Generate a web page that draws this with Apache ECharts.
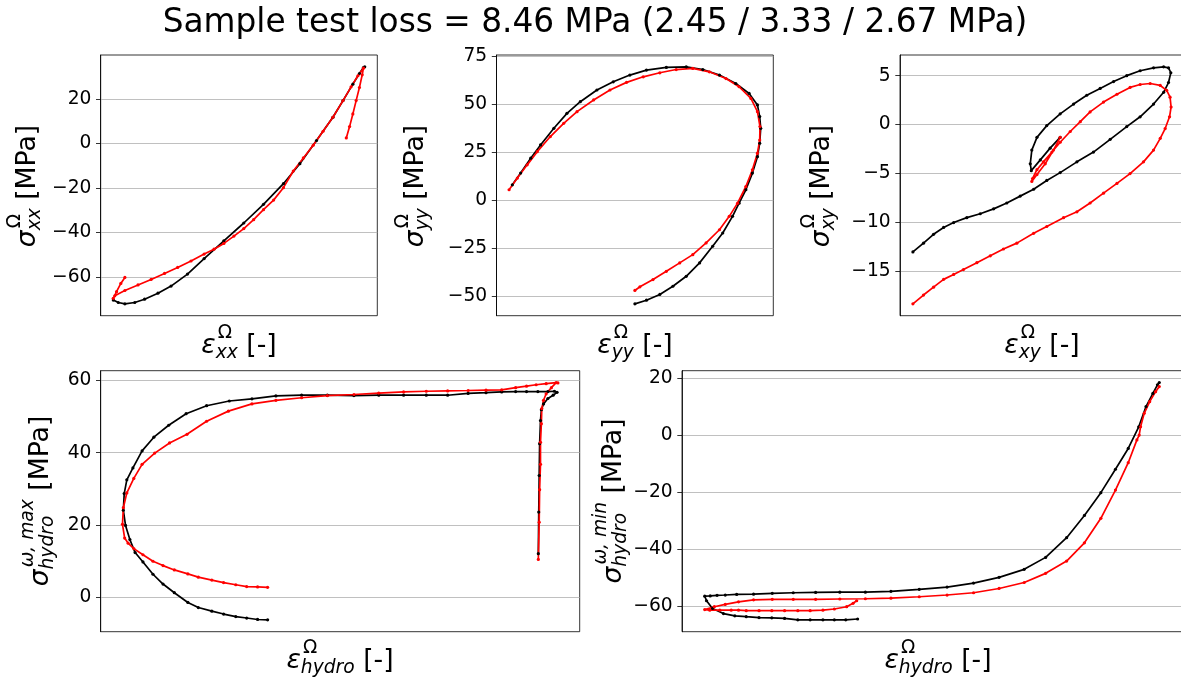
<!DOCTYPE html>
<html>
<head>
<meta charset="utf-8">
<script src="https://cdn.jsdelivr.net/npm/echarts@6/dist/echarts.min.js"></script>
<style>
html, body { margin: 0; padding: 0; background: #fff; }
#chart { width: 1181px; height: 677px; }
</style>
</head>
<body>
<div id="chart"></div>
<script>
// ---- Homogenised stress–strain paths (black = reference, red = prediction) ----
// Strains are normalised per component (0 = smallest, 1 = largest value on the path).

const xxStrainRef = [0.004,0.024,0.050,0.089,0.128,0.181,0.233,0.298,0.364,0.442,0.521,0.599,0.678,0.743,0.809,0.874,0.914,0.953,0.979,0.995,1.000];
const xxStressRef = [-70.5,-71.6,-72.2,-71.6,-70.1,-67.4,-64.2,-58.8,-51.8,-43.8,-35.8,-27.4,-18.1,-9.1,1.3,11.8,19.3,26.7,31.5,34.2,34.5];
const xxStrainPred = [0.927,0.940,0.953,0.966,0.979,0.990,0.995,0.973,0.946,0.914,0.874,0.835,0.796,0.757,0.717,0.678,0.639,0.599,0.560,0.521,0.482,0.442,0.403,0.364,0.312,0.259,0.207,0.154,0.102,0.050,0.010,0.004,0.017,0.034,0.050];
const xxStressPred = [2.5,7.6,13.3,19.3,25.2,30.9,33.9,30.5,25.5,19.3,11.8,5.5,-0.8,-6.5,-12.4,-19.9,-25.5,-29.8,-34.3,-38.3,-41.7,-45.0,-47.6,-49.8,-52.9,-55.8,-58.5,-61.2,-63.7,-66.2,-68.6,-69.7,-66.7,-63.0,-60.3];

const yyStrainRef = [0.013,0.046,0.086,0.125,0.178,0.230,0.283,0.349,0.414,0.480,0.546,0.625,0.704,0.770,0.836,0.901,0.954,0.987,0.996,1.000,0.996,0.987,0.967,0.941,0.914,0.888,0.849,0.809,0.757,0.704,0.651,0.599,0.546,0.500];
const yyStressRef = [8.0,14.1,21.9,28.8,37.5,45.3,51.4,57.5,61.8,65.3,67.9,69.3,69.6,68.2,65.3,60.9,55.7,49.7,43.6,37.5,29.7,22.7,14.1,5.4,-1.6,-8.5,-17.2,-24.1,-32.8,-39.8,-45.0,-49.3,-52.3,-54.2];
const yyStrainPred = [0.000,0.033,0.072,0.112,0.164,0.217,0.270,0.336,0.401,0.467,0.533,0.599,0.664,0.730,0.796,0.862,0.914,0.961,0.987,0.997,0.996,0.987,0.967,0.941,0.908,0.875,0.836,0.783,0.730,0.678,0.625,0.572,0.520,0.500];
const yyStressPred = [5.4,11.5,18.4,25.3,33.2,40.1,46.2,52.3,57.5,61.5,64.4,66.5,68.2,68.8,67.0,63.5,59.2,53.1,46.2,38.4,31.4,24.5,15.8,7.1,-1.6,-8.5,-15.5,-22.4,-28.5,-32.8,-37.2,-41.5,-45.3,-47.2];

const xyStrainRef = [0.000,0.041,0.080,0.119,0.158,0.209,0.261,0.313,0.364,0.416,0.468,0.519,0.571,0.636,0.700,0.765,0.829,0.881,0.933,0.972,0.991,1.000,0.991,0.972,0.933,0.881,0.829,0.778,0.726,0.674,0.623,0.571,0.519,0.481,0.461,0.455,0.459,0.494,0.532,0.571];
const xyStressRef = [-13.0,-12.1,-11.2,-10.5,-10.0,-9.5,-9.1,-8.6,-8.0,-7.3,-6.6,-5.7,-4.9,-3.8,-2.8,-1.5,-0.2,0.8,2.1,3.3,4.3,5.3,5.8,5.9,5.8,5.5,5.0,4.4,3.7,3.0,2.1,1.1,-0.1,-1.3,-2.6,-4.0,-4.7,-3.6,-2.4,-1.3];
const xyStrainPred = [0.000,0.041,0.080,0.119,0.158,0.196,0.248,0.300,0.351,0.403,0.468,0.519,0.584,0.636,0.687,0.739,0.791,0.842,0.894,0.933,0.959,0.978,0.995,1.001,0.997,0.984,0.959,0.920,0.881,0.842,0.791,0.739,0.687,0.649,0.610,0.571,0.539,0.506,0.481,0.464,0.461,0.481,0.513,0.545,0.571];
const xyStressPred = [-18.3,-17.4,-16.6,-15.8,-15.3,-14.8,-14.1,-13.4,-12.7,-12.1,-11.1,-10.4,-9.5,-8.9,-8.0,-7.0,-6.0,-5.0,-3.8,-2.6,-1.4,-0.4,0.8,1.8,2.8,3.5,4.0,4.2,4.1,3.8,3.1,2.3,1.3,0.3,-0.7,-1.8,-2.8,-3.8,-4.6,-5.5,-5.8,-5.1,-4.0,-2.6,-1.3];

const hydroMaxStrainRef = [0.334,0.311,0.286,0.261,0.233,0.206,0.175,0.151,0.120,0.094,0.071,0.048,0.030,0.018,0.008,0.003,0.005,0.011,0.025,0.046,0.073,0.107,0.147,0.194,0.246,0.298,0.353,0.412,0.471,0.532,0.589,0.646,0.698,0.747,0.794,0.835,0.871,0.903,0.928,0.954,0.977,0.992,0.998,0.989,0.977,0.967,0.962,0.960,0.958,0.957,0.956,0.955];
const hydroMaxStressRef = [-6.2,-6.1,-5.7,-5.3,-4.6,-3.8,-2.8,-1.4,1.3,3.7,6.4,9.8,12.4,16.0,19.9,24.1,28.7,32.5,35.8,40.5,44.3,47.6,50.8,53.0,54.3,54.9,55.7,55.9,55.9,55.8,55.9,55.9,55.9,55.9,56.4,56.6,56.8,56.9,56.9,56.9,56.9,57.0,56.7,55.9,55.0,53.5,51.9,48.9,42.5,33.7,23.6,12.1];
const hydroMaxStrainPred = [0.334,0.311,0.286,0.261,0.233,0.206,0.175,0.151,0.120,0.094,0.071,0.048,0.027,0.014,0.006,0.001,0.003,0.011,0.027,0.046,0.075,0.109,0.149,0.194,0.244,0.298,0.353,0.412,0.471,0.532,0.589,0.646,0.698,0.747,0.794,0.835,0.871,0.903,0.928,0.950,0.973,0.996,1.000,0.985,0.973,0.967,0.963,0.962,0.960,0.960,0.958,0.957,0.955];
const hydroMaxStressPred = [2.8,2.9,3.0,3.5,4.1,4.8,5.6,6.5,7.6,8.8,10.0,11.8,13.5,15.0,16.4,20.2,24.8,28.9,32.9,36.8,39.9,42.7,45.1,48.7,51.5,53.5,54.5,55.2,55.8,56.1,56.5,56.8,57.0,57.1,57.2,57.3,57.4,58.0,58.4,58.8,59.1,59.4,59.3,58.0,56.3,54.5,52.2,48.0,42.9,36.8,29.8,20.8,10.5];

const hydroMinStrainRef = [0.339,0.313,0.288,0.263,0.235,0.208,0.179,0.151,0.123,0.095,0.070,0.045,0.021,0.008,0.004,0.016,0.031,0.049,0.074,0.111,0.152,0.198,0.247,0.300,0.356,0.412,0.474,0.535,0.593,0.649,0.704,0.751,0.797,0.836,0.872,0.904,0.932,0.955,0.971,0.986,0.996,1.000];
const hydroMinStressRef = [-64.4,-64.7,-64.7,-64.7,-64.7,-64.7,-64.2,-64.0,-63.9,-63.6,-63.3,-62.5,-60.7,-58.0,-56.4,-56.3,-56.1,-56.0,-55.8,-55.7,-55.4,-55.2,-55.1,-55.0,-55.0,-54.7,-54.0,-53.2,-51.8,-49.8,-47.0,-42.8,-35.9,-28.1,-20.1,-11.9,-4.6,3.0,10.1,14.7,17.7,18.5];
const hydroMinStrainPred = [0.337,0.329,0.315,0.288,0.263,0.235,0.208,0.179,0.151,0.123,0.095,0.078,0.062,0.037,0.015,0.004,0.025,0.049,0.078,0.111,0.152,0.198,0.247,0.300,0.356,0.412,0.474,0.535,0.593,0.649,0.704,0.751,0.797,0.836,0.872,0.904,0.932,0.951,0.956,0.959,0.967,0.979,0.992,1.000];
const hydroMinStressPred = [-58.0,-58.9,-60.1,-60.9,-61.3,-61.5,-61.5,-61.5,-61.5,-61.5,-61.5,-61.3,-61.3,-61.3,-61.3,-61.1,-60.1,-59.3,-58.4,-57.7,-57.5,-57.5,-57.5,-57.4,-57.3,-57.1,-56.6,-56.0,-55.2,-53.7,-51.6,-48.4,-44.1,-37.7,-29.1,-19.2,-9.6,-1.6,0.1,3.0,7.7,11.8,15.3,17.1];

// Stress tick labels of each panel (MPa)
const xxTicks = [-60, -40, -20, 0, 20];
const yyTicks = [-50, -25, 0, 25, 50, 75];
const xyTicks = [-15, -10, -5, 0, 5];
const hydroMaxTicks = [0, 20, 40, 60];
const hydroMinTicks = [-60, -40, -20, 0, 20];

const titleText = 'Sample test loss = 8.46 MPa (2.45 / 3.33 / 2.67 MPa)';

// ---- layout ----
const FAMILY = '"DejaVu Sans"';
const TICK_FONT = 18.67;
const LABEL_FONT = 26.67;
const REF_COLOR = '#000000';
const PRED_COLOR = '#ff0000';

const panels = [
  { grid: { left: 100.7, top: 55, width: 276.6, height: 260.7 },
    ref: [xxStrainRef, xxStressRef], pred: [xxStrainPred, xxStressPred], ticks: xxTicks,
    yLabel: { base: 'σ', sup: 'Ω', sub: 'xx', pos: [26, 186] },
    xLabel: { base: 'ε', sup: 'Ω', sub: 'xx', pos: [239, 344] } },
  { grid: { left: 496.5, top: 55, width: 276.8, height: 260.7 },
    ref: [yyStrainRef, yyStressRef], pred: [yyStrainPred, yyStressPred], ticks: yyTicks,
    yLabel: { base: 'σ', sup: 'Ω', sub: 'yy', pos: [414, 186] },
    xLabel: { base: 'ε', sup: 'Ω', sub: 'yy', pos: [635, 344] } },
  { grid: { left: 900, top: 55, width: 284, height: 260.7 },
    ref: [xyStrainRef, xyStressRef], pred: [xyStrainPred, xyStressPred], ticks: xyTicks,
    yLabel: { base: 'σ', sup: 'Ω', sub: 'xy', pos: [820, 186] },
    xLabel: { base: 'ε', sup: 'Ω', sub: 'xy', pos: [1042, 344] } },
  { grid: { left: 100.7, top: 370.7, width: 479, height: 261 },
    ref: [hydroMaxStrainRef, hydroMaxStressRef], pred: [hydroMaxStrainPred, hydroMaxStressPred], ticks: hydroMaxTicks,
    yLabel: { base: 'σ', sup: 'ω, max', supItalic: true, sub: 'hydro', pos: [39, 501] },
    xLabel: { base: 'ε', sup: 'Ω', sub: 'hydro', pos: [340, 659] } },
  { grid: { left: 682, top: 370.7, width: 500, height: 261 },
    ref: [hydroMinStrainRef, hydroMinStressRef], pred: [hydroMinStrainPred, hydroMinStressPred], ticks: hydroMinTicks,
    yLabel: { base: 'σ', sup: 'ω, min', supItalic: true, sub: 'hydro', pos: [612, 501] },
    xLabel: { base: 'ε', sup: 'Ω', sub: 'hydro', pos: [938, 659] } }
];

// axis limits with a 5 % margin around the data
function paddedRange(arrays) {
  let lo = Infinity, hi = -Infinity;
  arrays.forEach(a => a.forEach(v => { lo = Math.min(lo, v); hi = Math.max(hi, v); }));
  const m = (hi - lo) * 0.05;
  return [lo - m, hi + m];
}
const zip = (xs, ys) => xs.map((x, i) => [x, ys[i]]);

// text measuring for the math-style axis titles
const measureCtx = document.createElement('canvas').getContext('2d');
function measure(text, font) {
  measureCtx.font = font;
  const m = measureCtx.measureText(text);
  return { w: m.width, mid: (m.fontBoundingBoxAscent - m.fontBoundingBoxDescent) / 2 };
}

// symbol with stacked super- and subscript followed by a unit, e.g. σ^Ω_xx [MPa]
function mathLabel(spec, tail, rotate) {
  const S = LABEL_FONT, s = S * 0.7;
  const fBase = `italic ${S}px ${FAMILY}`;
  const fSup = `${spec.supItalic ? 'italic ' : ''}${s}px ${FAMILY}`;
  const fSub = `italic ${s}px ${FAMILY}`;
  const fTail = `${S}px ${FAMILY}`;
  const mb = measure(spec.base, fBase), mp = measure(spec.sup, fSup);
  const ms = measure(spec.sub, fSub), mt = measure(tail, fTail);
  const pieces = [];
  let x = 0;
  pieces.push({ text: spec.base, font: fBase, x: x, base: 0, m: mb });
  x += mb.w;
  pieces.push({ text: spec.sup, font: fSup, x: x + 0.08 * S, base: -0.6 * S, m: mp });
  pieces.push({ text: spec.sub, font: fSub, x: x, base: 0.17 * S, m: ms });
  x += Math.max(mp.w + 0.08 * S, ms.w);
  pieces.push({ text: tail, font: fTail, x: x, base: 0, m: mt });
  const W = x + mt.w;
  const vc = -0.42 * S;
  return {
    type: 'group',
    x: spec.pos[0], y: spec.pos[1],
    rotation: rotate ? Math.PI / 2 : 0,
    silent: true,
    children: pieces.map(p => ({
      type: 'text',
      x: p.x - W / 2,
      y: p.base - p.m.mid - vc,
      style: { text: p.text, font: p.font, fill: '#000', align: 'left', verticalAlign: 'middle' }
    }))
  };
}

const option = {
  animation: false,
  backgroundColor: '#ffffff',
  grid: panels.map(p => Object.assign({}, p.grid, {
    show: true, borderColor: '#000', borderWidth: 0.8, backgroundColor: 'transparent',
    containLabel: false, outerBoundsMode: 'none'
  })),
  xAxis: panels.map((p, i) => {
    const r = paddedRange([p.ref[0], p.pred[0]]);
    return {
      type: 'value', gridIndex: i, min: r[0], max: r[1],
      axisLine: { show: false }, axisTick: { show: false },
      axisLabel: { show: false }, splitLine: { show: false }
    };
  }),
  yAxis: panels.map((p, i) => {
    const r = paddedRange([p.ref[1], p.pred[1]]);
    return {
      type: 'value', gridIndex: i, min: r[0], max: r[1], position: 'left',
      axisLine: { show: true, onZero: false, lineStyle: { color: '#000', width: 0.8 } },
      axisTick: { show: true, inside: false, length: 4.7, lineStyle: { color: '#000', width: 0.8 }, customValues: p.ticks },
      axisLabel: {
        customValues: p.ticks, fontSize: TICK_FONT, fontFamily: 'DejaVu Sans', color: '#000', margin: 9.3,
        formatter: v => String(v).replace('-', '\u2212')
      },
      splitLine: { show: true, lineStyle: { color: '#b0b0b0', width: 0.8 } }
    };
  }),
  series: panels.flatMap((p, i) => [
    { name: 'reference', data: zip(p.ref[0], p.ref[1]), color: REF_COLOR },
    { name: 'prediction', data: zip(p.pred[0], p.pred[1]), color: PRED_COLOR }
  ].map(s => ({
    type: 'line', xAxisIndex: i, yAxisIndex: i, name: s.name, data: s.data,
    symbol: 'circle', symbolSize: 3.2, showSymbol: true, smooth: false, silent: true,
    lineStyle: { color: s.color, width: 1.7 }, itemStyle: { color: s.color }
  }))),
  graphic: [
    { type: 'text', x: 595, y: 23, silent: true,
      style: { text: titleText, font: `32.8px ${FAMILY}`, fill: '#000', align: 'center', verticalAlign: 'middle' } }
  ].concat(panels.flatMap(p => [
    mathLabel(p.yLabel, ' [MPa]', true),
    mathLabel(p.xLabel, ' [-]', false)
  ]))
};

const chart = echarts.init(document.getElementById('chart'), null, { renderer: 'canvas' });
chart.setOption(option);
</script>
</body>
</html>
